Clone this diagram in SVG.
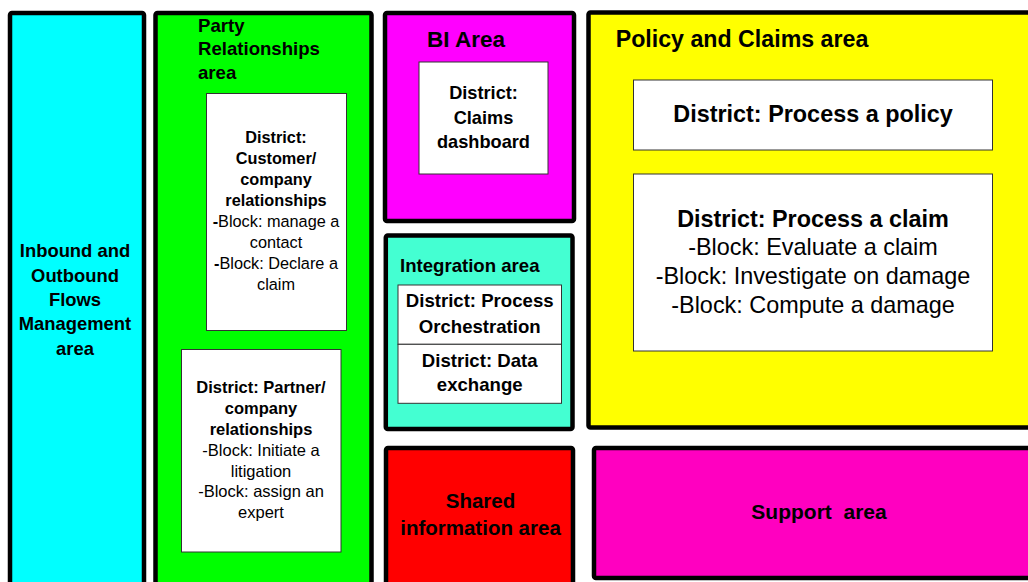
<svg xmlns="http://www.w3.org/2000/svg" width="1028" height="582" viewBox="0 0 1028 582">
<style>
.area{stroke:#000;stroke-width:4.5}
.box{fill:#fff;stroke:#333;stroke-width:1}
text{font-family:"Liberation Sans",Arial,sans-serif;fill:#000}
.b{font-weight:bold}
.c{text-anchor:middle}
</style>
<rect width="1028" height="582" fill="#fff"/>
<g id="inbound">
<rect class="area" x="10" y="13" width="134" height="600" rx="2" fill="#00FFFF"/>
<text class="b c" font-size="18.4" x="75" y="257.3">Inbound and<tspan x="75" dy="24.3">Outbound</tspan><tspan x="75" dy="24.3">Flows</tspan><tspan x="75" dy="24.3">Management</tspan><tspan x="75" dy="24.3">area</tspan></text>
</g>
<g id="party">
<rect class="area" x="155.5" y="13" width="216" height="600" rx="2" fill="#00FF00"/>
<text class="b" font-size="18.6" x="198" y="31.5">Party<tspan x="198" dy="23.8">Relationships</tspan><tspan x="198" dy="23.8">area</tspan></text>
</g>
<g id="customer">
<rect class="box" x="206.5" y="93.5" width="140" height="237"/>
<text class="c" font-size="16.3" x="276" y="142.7"><tspan class="b">District:</tspan><tspan class="b" x="276" dy="21.1">Customer/</tspan><tspan class="b" x="276" dy="21.1">company</tspan><tspan class="b" x="276" dy="21.1">relationships</tspan><tspan x="276" dy="21.1"><tspan class="b">-</tspan>Block: manage a</tspan><tspan x="276" dy="21.1">contact</tspan><tspan x="276" dy="21.1"><tspan class="b">-</tspan>Block: Declare a</tspan><tspan x="276" dy="21.1">claim</tspan></text>
</g>
<g id="partner">
<rect class="box" x="181.5" y="349.5" width="159.5" height="202.5"/>
<text class="c" font-size="16.5" x="261" y="393.3"><tspan class="b">District: Partner/</tspan><tspan class="b" x="261" dy="20.8">company</tspan><tspan class="b" x="261" dy="20.8">relationships</tspan><tspan x="261" dy="20.8">-Block: Initiate a</tspan><tspan x="261" dy="20.8">litigation</tspan><tspan x="261" dy="20.8">-Block: assign an</tspan><tspan x="261" dy="20.8">expert</tspan></text>
</g>
<g id="bi">
<rect class="area" x="385" y="13" width="189" height="208" rx="2" fill="#FF00FF"/>
<text class="b" font-size="22.5" x="427" y="46.7">BI Area</text>
</g>
<g id="dashboard">
<rect class="box" x="419" y="62" width="129" height="112"/>
<text class="b c" font-size="18.2" x="483.5" y="99.3">District:<tspan x="483.5" dy="24.2">Claims</tspan><tspan x="483.5" dy="24.2">dashboard</tspan></text>
</g>
<g id="integration">
<rect class="area" x="385.8" y="235.5" width="186.7" height="193.5" rx="2" fill="#44FFD2"/>
<text class="b" font-size="18.6" x="400" y="271.7">Integration area</text>
</g>
<g id="orchestration">
<rect class="box" x="398" y="285" width="163.5" height="59.3"/>
<text class="b c" font-size="18.6" x="479.7" y="307.3">District: Process<tspan x="479.7" dy="25.4">Orchestration</tspan></text>
</g>
<g id="dataexchange">
<rect class="box" x="398" y="344.3" width="163.5" height="59"/>
<text class="b c" font-size="18.6" x="479.7" y="367.3">District: Data<tspan x="479.7" dy="23.7">exchange</tspan></text>
</g>
<g id="policyclaims">
<rect class="area" x="588.5" y="12.5" width="460" height="415" rx="2" fill="#FFFF00"/>
<text class="b" font-size="23.2" x="615.7" y="47.3">Policy and Claims area</text>
</g>
<g id="processpolicy">
<rect class="box" x="633.5" y="80" width="359" height="70"/>
<text class="b c" font-size="23.4" x="813" y="121.7">District: Process a policy</text>
</g>
<g id="processclaim">
<rect class="box" x="633.5" y="174" width="359" height="177"/>
<text class="c" font-size="23.4" x="813" y="226.7"><tspan class="b">District: Process a claim</tspan><tspan x="813" dy="28.6">-Block: Evaluate a claim</tspan><tspan x="813" dy="28.6">-Block: Investigate on damage</tspan><tspan x="813" dy="28.6">-Block: Compute a damage</tspan></text>
</g>
<g id="shared">
<rect class="area" x="386" y="448" width="187" height="200" rx="2" fill="#FF0000"/>
<text class="b c" font-size="20.5" x="480.5" y="508.3">Shared<tspan x="480.5" dy="26.7">information area</tspan></text>
</g>
<g id="support">
<rect class="area" x="594" y="448" width="460" height="130" rx="2" fill="#FF00C0"/>
<text class="b c" font-size="21" x="819" y="519.3" xml:space="preserve">Support  area</text>
</g>
<g id="connectors"></g>
</svg>
